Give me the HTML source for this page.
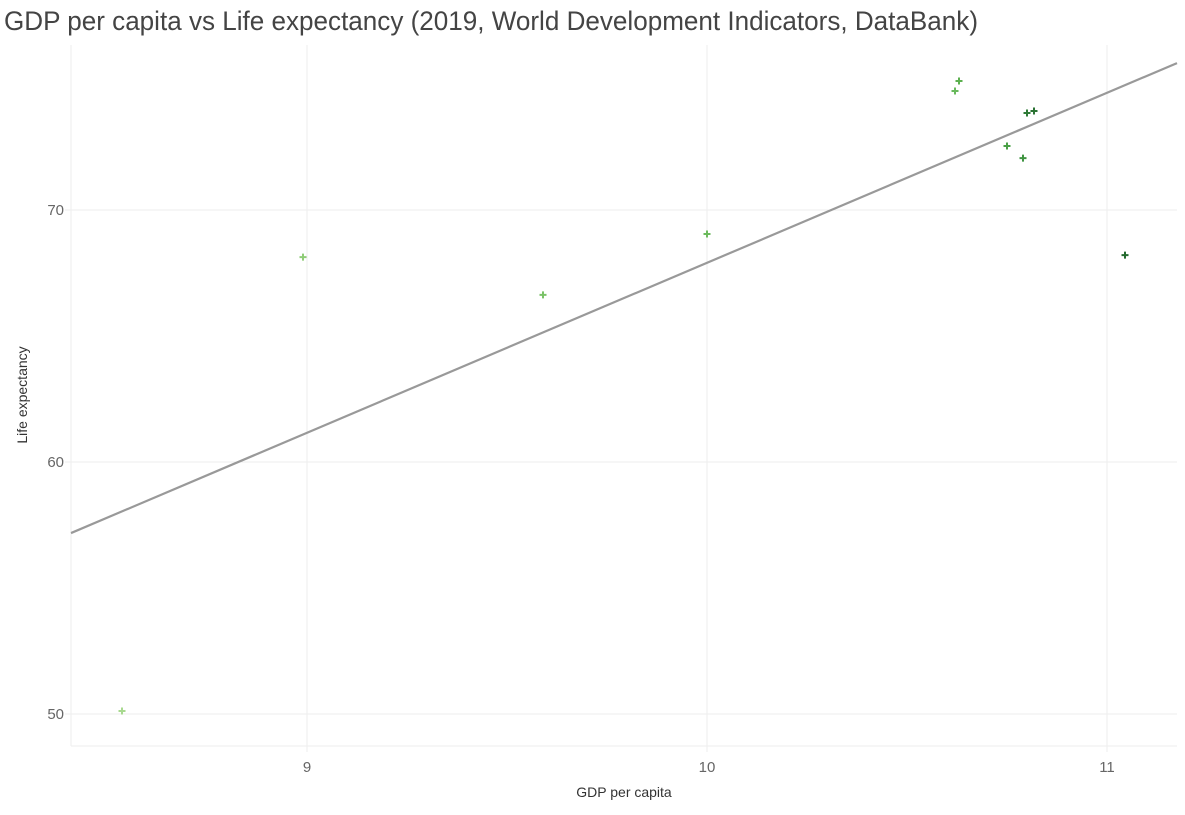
<!DOCTYPE html>
<html><head><meta charset="utf-8"><style>
body{margin:0;background:#fff;width:1185px;height:810px;overflow:hidden;font-family:"Liberation Sans",sans-serif}
</style></head><body>
<svg id="chart" width="1185" height="810" xmlns="http://www.w3.org/2000/svg">
<text x="4" y="30" font-size="26.7" fill="#444" font-family="Liberation Sans, sans-serif" textLength="974" lengthAdjust="spacingAndGlyphs">GDP per capita vs Life expectancy (2019, World Development Indicators, DataBank)</text>
<g id="grid"></g><g id="axes"></g><g id="marks"></g>
<text x="624" y="797" font-size="14" fill="#333" text-anchor="middle">GDP per capita</text>
<text transform="translate(27,395) rotate(-90)" font-size="14" fill="#333" text-anchor="middle">Life expectancy</text>
</svg>
<script>
const gdp=[8.5375,8.99,9.59,10.0,10.62,10.63,10.75,10.79,10.80,10.8175,11.045];
const life=[50.12,68.13,66.63,69.05,74.72,75.12,72.54,72.06,73.85,73.93,68.21];
const colors=["#a8d98f","#8fcc77","#7ac267","#6bba5c","#68b95c","#5cb04f","#4aa046","#3f9441","#2e7a36","#2a7233","#236a2e"];
const xTicks=[9,10,11];
const yTicks=[50,60,70];
const trendX=[8.41,11.175];
const trendY=[57.18,75.83];
const X=v=>307+(v-9)*400, Y=v=>210-(v-70)*25.2;
const NS="http://www.w3.org/2000/svg";
function mk(tag,attrs,parent){const e=document.createElementNS(NS,tag);for(const k in attrs)e.setAttribute(k,attrs[k]);document.getElementById(parent).appendChild(e);return e;}
let e=mk('line',{x1:71,x2:71,y1:45,y2:746,stroke:'#eee'},'axes');


e=mk('line',{x1:71,x2:1177,y1:746,y2:746,stroke:'#eee'},'axes');


xTicks.forEach(t=>{
 let g=mk('line',{x1:X(t),x2:X(t),y1:45,y2:752,stroke:'#eee'},'grid');
 
 
 let l=mk('text',{x:X(t),y:772,'font-size':15,fill:'#666','text-anchor':'middle'},'axes');l.textContent=t;
 
 
});
yTicks.forEach(t=>{
 let g=mk('line',{x1:65,x2:1177,y1:Y(t),y2:Y(t),stroke:'#eee'},'grid');
 
 
 let l=mk('text',{x:64,y:Y(t)+5,'font-size':15,fill:'#666','text-anchor':'end'},'axes');l.textContent=t;
 
 
});
e=mk('line',{x1:X(trendX[0]),y1:Y(trendY[0]),x2:X(trendX[1]),y2:Y(trendY[1]),stroke:'#999','stroke-width':2.2},'marks');


gdp.forEach((g,i)=>{
 const cx=X(g),cy=Y(life[i]);
 const p=mk('path',{d:`M${cx-3.5} ${cy}H${cx+3.5}M${cx} ${cy-3.5}V${cy+3.5}`,stroke:colors[i],'stroke-width':2},'marks');
 
 
});
</script>
</body></html>
